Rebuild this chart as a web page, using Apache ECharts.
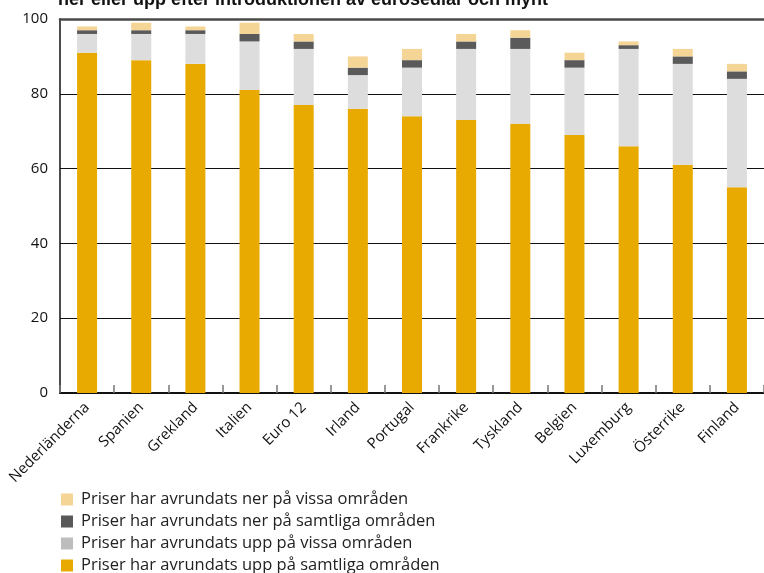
<!DOCTYPE html>
<html>
<head>
<meta charset="utf-8">
<script src="https://cdn.jsdelivr.net/npm/echarts@6/dist/echarts.min.js"></script>
<style>
  html, body { margin: 0; padding: 0; background: #fff; }
  #chart { width: 764px; height: 573px; }
</style>
</head>
<body>
<div id="chart"></div>
<script>
// Länder (Euro 12 = genomsnitt för euroområdet)
const countries = ['Nederländerna', 'Spanien', 'Grekland', 'Italien', 'Euro 12', 'Irland',
  'Portugal', 'Frankrike', 'Tyskland', 'Belgien', 'Luxemburg', 'Österrike', 'Finland'];

// Procent, staplade nerifrån och upp
const uppSamtliga = [91, 89, 88, 81, 77, 76, 74, 73, 72, 69, 66, 61, 55];
const uppVissa    = [5, 7, 8, 13, 15, 9, 13, 19, 20, 18, 26, 27, 29];
const nerSamtliga = [1, 1, 1, 2, 2, 2, 2, 2, 3, 2, 1, 2, 2];
const nerVissa    = [1, 2, 1, 3, 2, 3, 3, 2, 2, 2, 1, 2, 2];

const yTicks = [0, 20, 40, 60, 80, 100];

const names = {
  uppSamtliga: 'Priser har avrundats upp på samtliga områden',
  uppVissa: 'Priser har avrundats upp på vissa områden',
  nerSamtliga: 'Priser har avrundats ner på samtliga områden',
  nerVissa: 'Priser har avrundats ner på vissa områden'
};

const FONT = '"Open Sans", "DejaVu Sans", sans-serif';

const chart = echarts.init(document.getElementById('chart'), null, { renderer: 'canvas' });

function barSeries(name, data, color) {
  return {
    name: name,
    type: 'bar',
    stack: 'andel',
    data: data,
    barWidth: 20,
    itemStyle: { color: color },
    emphasis: { disabled: true },
    animation: false
  };
}

chart.setOption({
  animation: false,
  title: {
    text: 'ner eller upp efter introduktionen av eurosedlar och mynt',
    left: 58,
    top: -9,
    padding: 0,
    textStyle: { fontFamily: '"Liberation Sans", Arial, sans-serif', fontWeight: 'bold', fontSize: 18, color: '#111' }
  },
  grid: { left: 60, right: 0, top: 19, bottom: 180, containLabel: false },
  legend: {
    orient: 'vertical',
    left: 61,
    top: 491,
    height: 120,
    padding: 0,
    itemWidth: 12,
    itemHeight: 12,
    itemGap: 5,
    icon: 'rect',
    selectedMode: false,
    textStyle: { fontFamily: FONT, fontSize: 16.5, lineHeight: 16, color: '#222', padding: [0, 0, 0, 3] },
    data: [
      { name: names.nerVissa, itemStyle: { color: '#F5D596' } },
      { name: names.nerSamtliga, itemStyle: { color: '#595959' } },
      { name: names.uppVissa, itemStyle: { color: '#BDBDBD' } },
      { name: names.uppSamtliga, itemStyle: { color: '#E8AA00' } }
    ]
  },
  xAxis: [
    {
      type: 'category',
      data: countries,
      position: 'bottom',
      axisLine: { show: true, lineStyle: { color: '#111', width: 2 } },
      axisTick: { show: true, inside: true, length: 8, lineStyle: { color: '#777', width: 1.5 } },
      axisLabel: { rotate: 45, margin: 12, fontFamily: FONT, fontSize: 15, color: '#111', interval: 0 },
      splitLine: { show: false }
    },
    {
      type: 'category',
      data: countries,
      position: 'top',
      axisLine: { show: true, lineStyle: { color: '#4a4a4a', width: 2.5 } },
      axisTick: { show: false },
      axisLabel: { show: false }
    }
  ],
  yAxis: {
    type: 'value',
    min: yTicks[0],
    max: yTicks[yTicks.length - 1],
    interval: 20,
    axisLine: { show: true, lineStyle: { color: '#111', width: 1.5 } },
    axisTick: { show: false },
    axisLabel: { margin: 12, fontFamily: FONT, fontSize: 15, color: '#111' },
    splitLine: { show: true, lineStyle: { color: '#111', width: 1.2 } }
  },
  series: [
    barSeries(names.uppSamtliga, uppSamtliga, '#E8AA00'),
    barSeries(names.uppVissa, uppVissa, '#DDDDDD'),
    barSeries(names.nerSamtliga, nerSamtliga, '#5A5A5A'),
    barSeries(names.nerVissa, nerVissa, '#F5D596')
  ]
});
</script>
</body>
</html>
